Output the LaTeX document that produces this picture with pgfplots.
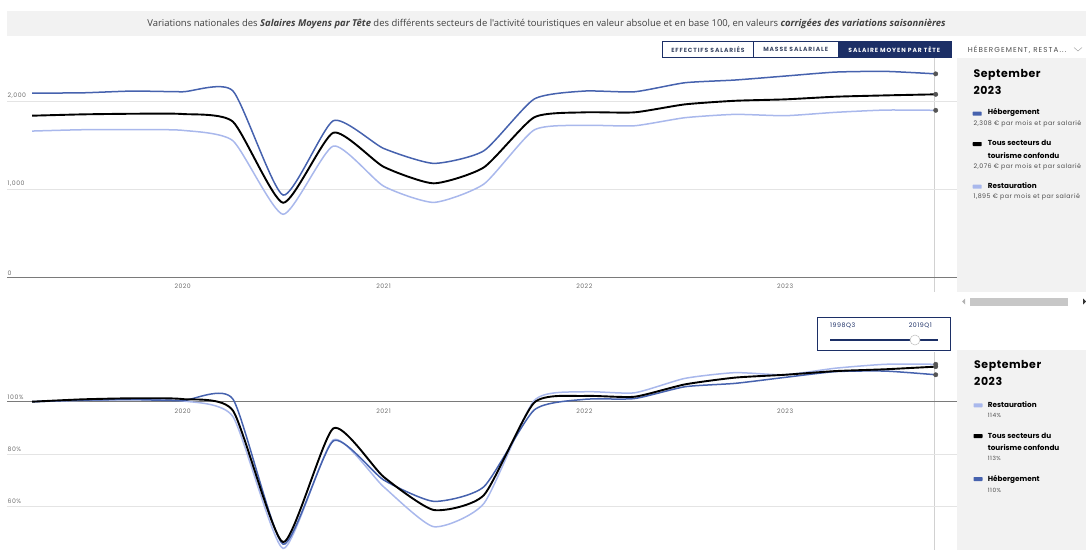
\documentclass[border=0pt]{standalone}
\usepackage{fontspec}
\setmainfont{Poppins}
\newfontfamily\titlefont{Open Sans}
\newfontfamily\headfont[LetterSpace=5]{Poppins}
\newfontfamily\btnfont[LetterSpace=15]{Poppins}
\newfontfamily\smallfont[LetterSpace=8]{Poppins}
\usepackage{pgfplots}
\usepackage{pgfplotstable}
\pgfplotsset{compat=1.18}

\definecolor{heb}{HTML}{4662AE}
\definecolor{rest}{HTML}{A9B8EC}
\definecolor{navy}{HTML}{1C2F66}
\definecolor{panelgray}{HTML}{F2F2F2}
\definecolor{gridgray}{HTML}{E4E4E4}
\definecolor{basegray}{HTML}{7A7A7A}
\definecolor{tickgray}{HTML}{6E6E6E}
\definecolor{btntext}{HTML}{3C4865}
\definecolor{dotgray}{HTML}{555555}

% salaire moyen par tete, euros par mois (quarter ends, 2019Q1 .. 2023Q3)
\pgfplotstableread{
t       heb   tous  rest
2019.25 2090  1834  1660
2019.50 2093  1849  1675
2019.75 2113  1856  1675
2020.00 2105  1853  1668
2020.25 2115  1766  1550
2020.50  935   848   717
2020.75 1777  1641  1490
2021.00 1464  1256  1037
2021.25 1294  1068   852
2021.50 1437  1249  1060
2021.75 2022  1815  1672
2022.00 2113  1872  1725
2022.25 2105  1872  1720
2022.50 2207  1962  1811
2022.75 2238  2003  1849
2023.00 2283  2019  1834
2023.25 2328  2049  1872
2023.50 2336  2064  1898
2023.75 2308  2076  1895
}\salaires

% base 100 = 2019Q1
\pgfplotstableread{
t       heb    tous   rest
2019.25 100.0  100.0  100.0
2019.50 100.6  100.9  100.5
2019.75 100.8  101.3  100.8
2020.00 100.4  101.0  100.3
2020.25 101.0   96.6   94.3
2020.50  45.5   46.3   43.9
2020.75  85.0   89.8   85.4
2021.00  70.1   71.3   67.5
2021.25  61.9   58.6   52.2
2021.50  67.5   64.3   61.1
2021.75  96.8   99.6  100.4
2022.00 100.9  102.2  103.8
2022.25 101.2  101.9  103.4
2022.50 105.7  106.6  108.9
2022.75 107.0  109.2  111.1
2023.00 109.3  110.3  110.3
2023.25 111.5  111.7  112.8
2023.50 111.7  112.4  114.3
2023.75 110.3  113.4  114.3
}\base

\pgfplotsset{
  panel axis/.style={
    scale only axis, width=950bp,
    xmin=2019.125, xmax=2023.856,
    axis line style={draw=none}, major tick length=0pt,
    ymajorgrids, grid style={gridgray, line width=0.6bp},
    extra y tick style={grid style={basegray, line width=1.3bp}},
    tick label style={font=\smallfont\fontsize{6.2}{7}\selectfont, text=tickgray},
    /pgf/number format/assume math mode=true,
    yticklabel style={anchor=south west, inner sep=0pt, xshift=0.5bp, yshift=2.3bp},
    xticklabel style={inner sep=0pt, /pgf/number format/1000 sep={}},
  },
  curve/.style={smooth, tension=0.35, line width=1.5bp, no marks},
  lastdot/.style={only marks, mark=*, mark size=2.2bp, mark indices={19},
    mark options={fill=dotgray, draw=dotgray}},
}

\begin{document}
\begin{tikzpicture}
\useasboundingbox (0,0) rectangle (1086bp,-550bp);
\clip (0,0) rectangle (1086bp,-550bp);

\begin{scope}[x=1bp, y=-1bp]
% title bar
\fill[panelgray] (7,11) rectangle (1086,36);
\node[font=\titlefont\fontsize{9.5}{10}\selectfont, text=black!75] at (546.5,24)
  {Variations nationales des {\bfseries\itshape Salaires Moyens par Tête} des différents secteurs de l'activité touristiques en valeur absolue et en base 100, en valeurs {\bfseries\itshape corrigées des variations saisonnières}};

% buttons
\fill[navy] (837.7,41) rectangle (951,57.7);
\draw[navy, line width=0.7] (662.3,41) rectangle (951,57.7);
\draw[navy, line width=0.7] (753.7,41) -- (753.7,57.7);
\node[font=\btnfont\bfseries\fontsize{6}{7}\selectfont, text=btntext] at (708,49.4) {EFFECTIFS SALARIÉS};
\node[font=\btnfont\bfseries\fontsize{6}{7}\selectfont, text=btntext] at (795.7,49.4) {MASSE SALARIALE};
\node[font=\btnfont\bfseries\fontsize{6}{7}\selectfont, text=white] at (894.3,49.4) {SALAIRE MOYEN PAR TÊTE};

% selector
\node[anchor=west, font=\btnfont\fontsize{7.2}{8}\selectfont, text=black!70, inner sep=0] at (967.7,49.4) {HÉBERGEMENT, RESTA...};
\draw[black!35, line width=0.5] (1074,47.5) -- (1078,51) -- (1082,47.5);

% legend panels
\fill[panelgray] (956.5,57.7) rectangle (1086,292);
\fill[panelgray] (956.5,350) rectangle (1086,550);
\fill[black!22] (970,297.5) rectangle (1068,305.5);
\fill[black!30] (962,301.5) -- (965,298.5) -- (965,304.5) -- cycle;
\fill[black!80] (1086,301.5) -- (1083,298.5) -- (1083,304.5) -- cycle;

\node[anchor=west, inner sep=0, font=\headfont\bfseries\fontsize{11}{12}\selectfont] at (973.3,75) {September};
\node[anchor=west, inner sep=0, font=\headfont\bfseries\fontsize{11}{12}\selectfont] at (973.3,90.7) {2023};
\fill[heb, rounded corners=0.6] (972.7,111.7) rectangle (981.7,115.7);
\node[anchor=west, inner sep=0, font=\bfseries\fontsize{7.3}{8}\selectfont] at (987.7,112) {Hébergement};
\node[anchor=west, inner sep=0, font=\smallfont\fontsize{6.3}{7}\selectfont, text=black!70] at (973.3,123.7) {2,308 € par mois et par salarié};
\fill[black, rounded corners=0.6] (972.7,142) rectangle (981.7,146);
\node[anchor=west, inner sep=0, font=\bfseries\fontsize{7.3}{8}\selectfont] at (987.7,143.3) {Tous secteurs du};
\node[anchor=west, inner sep=0, font=\bfseries\fontsize{7.3}{8}\selectfont] at (987.7,155.7) {tourisme confondu};
\node[anchor=west, inner sep=0, font=\smallfont\fontsize{6.3}{7}\selectfont, text=black!70] at (973.3,166.7) {2,076 € par mois et par salarié};
\fill[rest, rounded corners=0.6] (972.7,184.7) rectangle (981.7,188.7);
\node[anchor=west, inner sep=0, font=\bfseries\fontsize{7.3}{8}\selectfont] at (987.7,185.7) {Restauration};
\node[anchor=west, inner sep=0, font=\smallfont\fontsize{6.3}{7}\selectfont, text=black!70] at (973.3,196.7) {1,895 € par mois et par salarié};

\node[anchor=west, inner sep=0, font=\headfont\bfseries\fontsize{11}{12}\selectfont] at (974,366) {September};
\node[anchor=west, inner sep=0, font=\headfont\bfseries\fontsize{11}{12}\selectfont] at (974,381.7) {2023};
\fill[rest, rounded corners=0.6] (973.5,403.3) rectangle (982.5,407.3);
\node[anchor=west, inner sep=0, font=\bfseries\fontsize{7.3}{8}\selectfont] at (987.7,405) {Restauration};
\node[anchor=west, inner sep=0, font=\smallfont\fontsize{5.8}{6}\selectfont, text=black!70] at (987.7,415.7) {114\%};
\fill[black, rounded corners=0.6] (973.5,434) rectangle (982.5,438);
\node[anchor=west, inner sep=0, font=\bfseries\fontsize{7.3}{8}\selectfont] at (987.7,436) {Tous secteurs du};
\node[anchor=west, inner sep=0, font=\bfseries\fontsize{7.3}{8}\selectfont] at (987.7,447.3) {tourisme confondu};
\node[anchor=west, inner sep=0, font=\smallfont\fontsize{5.8}{6}\selectfont, text=black!70] at (987.7,458.7) {113\%};
\fill[heb, rounded corners=0.6] (973.5,477) rectangle (982.5,481);
\node[anchor=west, inner sep=0, font=\bfseries\fontsize{7.3}{8}\selectfont] at (987.7,479) {Hébergement};
\node[anchor=west, inner sep=0, font=\smallfont\fontsize{5.8}{6}\selectfont, text=black!70] at (987.7,490) {110\%};

% period slider
\draw[navy, line width=0.8] (817.3,317.3) rectangle (950.7,350);
\node[anchor=west, inner sep=0, font=\smallfont\fontsize{6.3}{7}\selectfont, text=navy] at (830,325.5) {1998Q3};
\node[anchor=east, inner sep=0, font=\smallfont\fontsize{6.3}{7}\selectfont, text=navy] at (932,325.5) {2019Q1};
\draw[navy, line width=1.8] (830,340) -- (938,340);
\draw[black!25, fill=white, line width=0.5] (915,340) circle (5);

% hover line
\draw[black!18, line width=0.8] (934.3,58) -- (934.3,292);
\draw[black!18, line width=0.8] (934.3,352) -- (934.3,550);
\end{scope}

% valeurs absolues
\begin{axis}[panel axis, at={(7bp,-277.6bp)}, anchor=south west,
  height=220.7bp, ymin=0, ymax=2500,
  ytick={1000,2000}, extra y ticks={0},
  yticklabel style={/pgf/number format/1000 sep={,}},
  xtick={2020,2021,2022,2023}, xticklabel style={yshift=-6bp}]
\addplot[curve, rest] table[x=t, y=rest] {\salaires};
\addplot[curve, heb] table[x=t, y=heb] {\salaires};
\addplot[curve, black, line width=1.9bp] table[x=t, y=tous] {\salaires};
\addplot[lastdot] table[x=t, y=rest] {\salaires};
\addplot[lastdot] table[x=t, y=heb] {\salaires};
\addplot[lastdot] table[x=t, y=tous] {\salaires};
\end{axis}

% base 100
\begin{axis}[panel axis, at={(7bp,-550bp)}, anchor=south west,
  height=198bp, ymin=43.29, ymax=119,
  ytick={60,80}, extra y ticks={100},
  yticklabel={\pgfmathprintnumber{\tick}\%},
  xtick={2020,2021,2022,2023}, xticklabel style={yshift=141.7bp}]
\addplot[curve, rest] table[x=t, y=rest] {\base};
\addplot[curve, heb] table[x=t, y=heb] {\base};
\addplot[curve, black, line width=1.9bp] table[x=t, y=tous] {\base};
\addplot[lastdot] table[x=t, y=rest] {\base};
\addplot[lastdot] table[x=t, y=heb] {\base};
\addplot[lastdot] table[x=t, y=tous] {\base};
\end{axis}
\end{tikzpicture}
\end{document}
